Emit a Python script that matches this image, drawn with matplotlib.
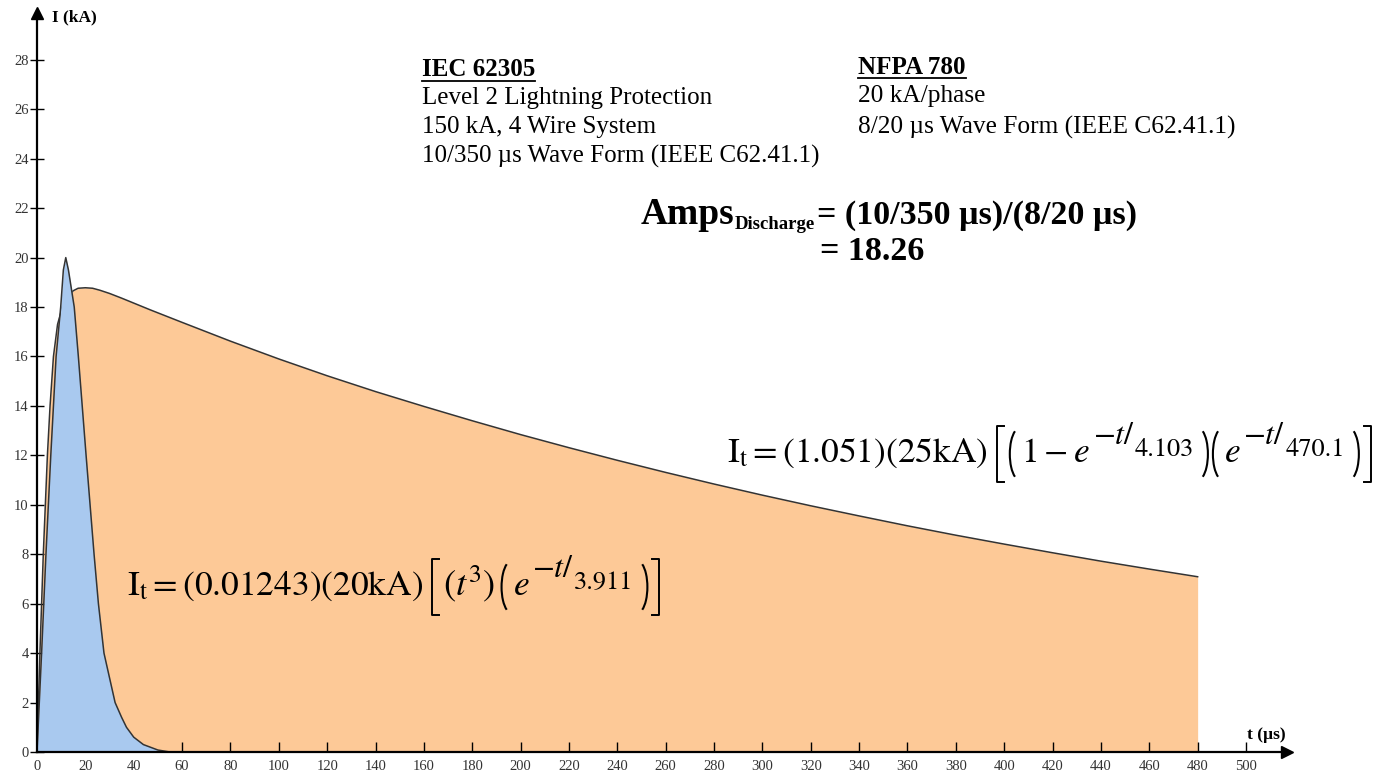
import matplotlib
matplotlib.use("Agg")
import matplotlib.pyplot as plt
from matplotlib.lines import Line2D
from matplotlib.patches import Arc
from matplotlib.transforms import IdentityTransform

# 10/350 us curve (orange)
t_long = [0, 1.2, 2.6, 4.3, 5.4, 6.8, 8.5, 10.5, 13, 15, 17, 20, 23, 26, 30, 35,
          40, 47, 60, 80, 100, 120, 140, 160, 180, 200, 220, 240, 260, 280, 300,
          320, 340, 360, 380, 400, 420, 440, 460, 480]
i_long = [0, 4.0, 8.0, 12.0, 14.0, 16.0, 17.3, 18.0, 18.45, 18.66, 18.76, 18.78,
          18.76, 18.68, 18.55, 18.36, 18.16, 17.88, 17.38, 16.62, 15.90, 15.22,
          14.58, 13.98, 13.40, 12.84, 12.31, 11.80, 11.31, 10.84, 10.39, 9.96,
          9.55, 9.15, 8.77, 8.41, 8.06, 7.72, 7.40, 7.09]

# 8/20 us curve (blue)
t_short = [0, 1.9, 3.7, 5.7, 7.9, 9.8, 10.9, 11.9, 13.0, 15.4, 17.1, 20.3, 23.6,
           25.4, 27.7, 30.0, 32.3, 35.0, 37.0, 40.0, 44.0, 50.0, 55.0]
i_short = [0, 4.0, 8.0, 12.0, 16.0, 18.0, 19.5, 20.0, 19.5, 18.0, 16.0, 12.0, 8.0,
           6.0, 4.0, 3.0, 2.0, 1.4, 1.0, 0.6, 0.3, 0.08, 0]

x_ticks = list(range(0, 501, 20))
y_ticks = list(range(0, 29, 2))

iec_lines = ["Level 2 Lightning Protection", "150 kA, 4 Wire System",
             "10/350 µs Wave Form (IEEE C62.41.1)"]
nfpa_lines = ["20 kA/phase", "8/20 µs Wave Form (IEEE C62.41.1)"]

plt.rcParams['mathtext.fontset'] = 'stix'
serif = 'Liberation Serif'

W, H = 1379, 775
x0_px, y0_px = 37, 752          # pixel of the origin
right_px, top_px = 1287, 13      # ends of the axis arrows
sx, sy = 2.418, 24.72           # pixels per unit

fig = plt.figure(figsize=(W / 100, H / 100), dpi=100)
ax = fig.add_axes([x0_px / W, (H - y0_px) / H, (right_px - x0_px) / W, (y0_px - top_px) / H])
ax.set_xlim(0, (right_px - x0_px) / sx)
ax.set_ylim(0, (y0_px - top_px) / sy)

ax.fill_between(t_long, i_long, 0, color='#fdc997', lw=0, zorder=1)
ax.plot(t_long, i_long, color='#333333', lw=1.1, zorder=2)
ax.fill_between(t_short, i_short, 0, color='#a9c9ef', lw=0, zorder=3)
ax.plot(t_short, i_short, color='#333333', lw=1.1, zorder=4)

for s in ['top', 'right']:
    ax.spines[s].set_visible(False)
for s in ['left', 'bottom']:
    ax.spines[s].set_linewidth(1.6)
    ax.spines[s].set_zorder(5)
ax.plot(1, 0, '>k', ms=9, transform=ax.transAxes, clip_on=False)
ax.plot(0, 1, '^k', ms=9, transform=ax.transAxes, clip_on=False)

ax.set_xticks(x_ticks)
ax.set_yticks(y_ticks)
ax.tick_params(axis='x', direction='in', length=7, width=1, pad=6,
               labelsize=10.5, labelcolor='#333333')
ax.tick_params(axis='y', direction='inout', length=10, width=1, pad=1,
               labelsize=10.5, labelcolor='#333333')
for lab in ax.get_xticklabels() + ax.get_yticklabels():
    lab.set_family(serif)


def px(x, y):
    return x / W, 1 - y / H


renderer = fig.canvas.get_renderer()


def big_delim(kind, x, c, half=28):
    # tall thin brackets / parentheses, drawn in pixel space
    top, bot = H - (c - half), H - (c + half)
    if kind == '[':
        fig.add_artist(Line2D([x + 11, x + 4, x + 4, x + 11], [top, top, bot, bot],
                              color='black', lw=1.4, transform=IdentityTransform()))
        return x + 15
    if kind == ']':
        fig.add_artist(Line2D([x + 2, x + 9, x + 9, x + 2], [top, top, bot, bot],
                              color='black', lw=1.4, transform=IdentityTransform()))
        return x + 14
    h = 2 * (half - 3)
    if kind == '(':
        fig.add_artist(Arc((x + 12, H - c), 20, h * 1.04, theta1=102, theta2=258,
                           color='black', lw=1.5, transform=IdentityTransform()))
        return x + 13
    fig.add_artist(Arc((x + 1, H - c), 20, h * 1.04, theta1=-78, theta2=78,
                       color='black', lw=1.5, transform=IdentityTransform()))
    return x + 14


def chain(x, c, pieces):
    # write pieces one after the other, starting at pixel x
    for p in pieces:
        if p in ('[', ']', '(', ')'):
            x = big_delim(p, x, c)
            continue
        s, size, y, gap = p
        t = fig.text(x / W, 1 - y / H, s, fontsize=size, va='baseline',
                     family='STIXGeneral')
        x = t.get_window_extent(renderer).x1 + gap
    return x


fig.text(*px(52, 17), "I (kA)", family=serif, weight='bold', fontsize=12.5, va='center')
fig.text(*px(1247, 735), "t (µs)", family=serif, weight='bold', fontsize=12.5, va='center')

titles = []
titles.append(fig.text(*px(422, 70), "IEC 62305", family=serif, weight='bold',
                       fontsize=18, va='center'))
for k, line in enumerate(iec_lines):
    fig.text(*px(422, 98 + 29 * k), line, family=serif, fontsize=18, va='center')
titles.append(fig.text(*px(858, 67), "NFPA 780", family=serif, weight='bold',
                       fontsize=18, va='center'))
for k, line in enumerate(nfpa_lines):
    fig.text(*px(858, 96 + 31 * k), line, family=serif, fontsize=18.3, va='center')

# formula for the 10/350 curve
b = 462
chain(727, 454, [
    (r"$\mathrm{I_t} = (1.051)(25\mathrm{kA})$", 25.5, b, 5),
    '[', '(',
    (r"$1-e$", 25.5, b, 3),
    (r"$-t/$", 23, b - 18, 0),
    ("4.103", 19, b - 6, 3),
    ')', '(',
    (r"$e$", 25.5, b, 3),
    (r"$-t/$", 23, b - 18, 0),
    ("470.1", 19, b - 6, 3),
    ')', ']',
])

# formula for the 8/20 curve
b = 595
chain(127, 587, [
    (r"$\mathrm{I_t} = (0.01243)(20\mathrm{kA})$", 25.5, b, 5),
    '[',
    (r"$(t^3)$", 26.5, b, 4),
    '(',
    (r"$e$", 25.5, b, 3),
    (r"$-t/$", 23, b - 18, 0),
    ("3.911", 19, b - 6, 3),
    ')', ']',
])

# Amps line: three pieces placed one after the other
amps = fig.text(*px(641, 224), "Amps", family=serif, weight='bold', fontsize=27,
                va='baseline')
x_next = amps.get_window_extent(renderer).x1
sub = fig.text(x_next / W, 1 - 229 / H, "Discharge", family=serif, weight='bold',
               fontsize=13.5, va='baseline')
x_next = sub.get_window_extent(renderer).x1 + 2
fig.text(x_next / W, 1 - 224 / H, "= (10/350 µs)/(8/20 µs)", family=serif,
         weight='bold', fontsize=24.5, va='baseline')
fig.text(*px(820, 260), "= 18.26", family=serif, weight='bold', fontsize=24.5,
         va='baseline')

# underline the two headings
fig.canvas.draw()
for t in titles:
    bb = t.get_window_extent()
    y0 = bb.y0 + 1
    fig.add_artist(Line2D([bb.x0 / W, bb.x1 / W], [y0 / H, y0 / H], color='black', lw=1.3))

fig.savefig("out.png", dpi=100)
